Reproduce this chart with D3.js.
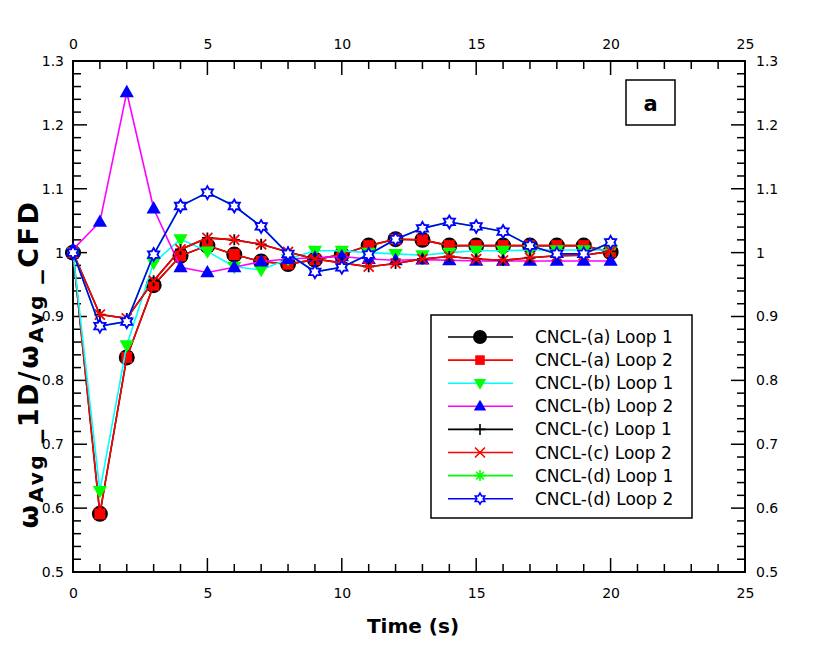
<!DOCTYPE html>
<html><head><meta charset="utf-8">
<script src="https://cdn.jsdelivr.net/npm/d3@7"></script>
<style>body{margin:0;background:#fff}svg{display:block}</style>
</head><body>
<svg id="c" width="830" height="665"></svg>
<script>
const time = d3.range(0, 21);
const a1 = [1.0, 0.591, 0.836, 0.949, 0.995, 1.011, 0.997, 0.986, 0.982, 0.989, 0.997, 1.011, 1.021, 1.02, 1.011, 1.011, 1.011, 1.011, 1.011, 1.011, 1.001];
const a2 = [1.0, 0.591, 0.836, 0.949, 0.995, 1.011, 0.997, 0.986, 0.982, 0.989, 0.997, 1.011, 1.021, 1.02, 1.011, 1.011, 1.011, 1.011, 1.011, 1.011, 1.001];
const b1 = [1.0, 0.627, 0.855, 0.984, 1.021, 1.002, 0.978, 0.973, 0.99, 1.003, 1.003, 1.0, 0.998, 0.996, 1.0, 1.003, 1.003, 1.004, 1.004, 1.004, 1.004];
const b2 = [1.005, 1.048, 1.251, 1.069, 0.977, 0.969, 0.977, 0.986, 0.99, 0.992, 0.994, 0.99, 0.988, 0.989, 0.988, 0.987, 0.987, 0.987, 0.987, 0.987, 0.987];
const c1 = [1.0, 0.903, 0.897, 0.956, 1.005, 1.023, 1.02, 1.013, 1.001, 0.99, 0.984, 0.978, 0.983, 0.99, 0.994, 0.99, 0.988, 0.992, 0.995, 0.996, 1.002];
const c2 = [1.0, 0.903, 0.897, 0.956, 1.005, 1.023, 1.02, 1.013, 1.001, 0.99, 0.984, 0.978, 0.983, 0.99, 0.994, 0.99, 0.988, 0.992, 0.995, 0.996, 1.002];
const d1 = [1.0, 0.885, 0.892, 0.997, 1.073, 1.094, 1.073, 1.041, 0.998, 0.97, 0.977, 0.997, 1.021, 1.038, 1.048, 1.041, 1.033, 1.011, 0.998, 0.998, 1.016];
const d2 = [1.0, 0.885, 0.892, 0.997, 1.073, 1.094, 1.073, 1.041, 0.998, 0.97, 0.977, 0.997, 1.021, 1.038, 1.048, 1.041, 1.033, 1.011, 0.998, 0.998, 1.016];
const seriesNames = ["CNCL-(a) Loop 1","CNCL-(a) Loop 2","CNCL-(b) Loop 1","CNCL-(b) Loop 2","CNCL-(c) Loop 1","CNCL-(c) Loop 2","CNCL-(d) Loop 1","CNCL-(d) Loop 2"];
const xTicks = [0, 5, 10, 15, 20, 25];
const yTicks = [0.5, 0.6, 0.7, 0.8, 0.9, 1.0, 1.1, 1.2, 1.3];
const panelLabel = "a";

const styles = [
  {line:"#000000", sym:"circle", fill:"#000000", stroke:"none", size:8, lsize:7},
  {line:"#ff0000", sym:"square", fill:"#ff0000", stroke:"none", size:5.5, lsize:4.8},
  {line:"#00ffff", sym:"tridown", fill:"#00ff00", stroke:"none", size:7.5, lsize:6.5},
  {line:"#ff00ff", sym:"triup", fill:"#0000ff", stroke:"none", size:7.5, lsize:6.5},
  {line:"#000000", sym:"plus", fill:"none", stroke:"#000000", size:5.5, lsize:5.5},
  {line:"#ff0000", sym:"cross", fill:"none", stroke:"#ff0000", size:5, lsize:5},
  {line:"#00ff00", sym:"aster", fill:"none", stroke:"#00ff00", size:5.5, lsize:5.5},
  {line:"#0000ff", sym:"hex", fill:"#ffffff", stroke:"#0000ff", size:6.5, lsize:5.5}
];
const data = [a1,a2,b1,b2,c1,c2,d1,d2];

function symPath(t, r){
  if(t==="circle"){const p=d3.path();p.moveTo(r,0);p.arc(0,0,r,0,2*Math.PI);return p.toString();}
  if(t==="square") return `M${-r},${-r}H${r}V${r}H${-r}Z`;
  if(t==="triup") return `M0,${-r}L${r*0.95},${r*0.65}L${-r*0.95},${r*0.65}Z`;
  if(t==="tridown") return `M0,${r}L${r*0.95},${-r*0.65}L${-r*0.95},${-r*0.65}Z`;
  if(t==="plus") return `M${-r},0H${r}M0,${-r}V${r}`;
  if(t==="cross") return `M${-r},${-r}L${r},${r}M${-r},${r}L${r},${-r}`;
  if(t==="aster"){const k=r*0.707;return `M${-r},0H${r}M0,${-r}V${r}M${-k},${-k}L${k},${k}M${-k},${k}L${k},${-k}`;}
  if(t==="hex"){
    const pts=[];
    for(let i=0;i<12;i++){const ang=-Math.PI/2+i*Math.PI/6;const rr=(i%2===0)?r:r*0.577;pts.push([rr*Math.cos(ang),rr*Math.sin(ang)]);}
    return "M"+pts.map(p=>p[0].toFixed(2)+","+p[1].toFixed(2)).join("L")+"Z";
  }
}

const svg = d3.select("#c");
const L=73, R=745, T=61, B=572;
const x = d3.scaleLinear().domain([0,25]).range([L,R]);
const y = d3.scaleLinear().domain([0.5,1.3]).range([B,T]);

const g = svg.append("g");
g.append("rect").attr("x",L).attr("y",T).attr("width",R-L).attr("height",B-T).attr("fill","none").attr("stroke","#000").attr("stroke-width",2);

const font = "'DejaVu Sans', Verdana, sans-serif";
const xMinor = d3.range(0,26,1);
const yMinor = d3.range(0,41).map(i=>+(0.5+i*0.02).toFixed(2));
const isMajX = v=>v%5===0;
const isMajY = v=>Math.abs(Math.round(v*10)-v*10)<1e-6;

const tk = g.append("g").attr("stroke","#000").attr("stroke-width",1.5);
xMinor.forEach(v=>{
  const len = isMajX(v)?14:8;
  tk.append("line").attr("x1",x(v)).attr("x2",x(v)).attr("y1",B).attr("y2",B-len);
  tk.append("line").attr("x1",x(v)).attr("x2",x(v)).attr("y1",T).attr("y2",T+len);
});
yMinor.forEach(v=>{
  const len = isMajY(v)?14:8;
  tk.append("line").attr("y1",y(v)).attr("y2",y(v)).attr("x1",L).attr("x2",L+len);
  tk.append("line").attr("y1",y(v)).attr("y2",y(v)).attr("x1",R).attr("x2",R-len);
});

const fmtY = d=> d===1? "1" : d3.format(".1f")(d);
function styleAxis(sel){sel.select(".domain").remove();sel.selectAll(".tick line").remove();sel.selectAll("text").attr("font-family",font).attr("font-size",14).attr("fill","#000");}
svg.append("g").attr("transform",`translate(0,${B})`).call(d3.axisBottom(x).tickValues(xTicks).tickSize(0).tickPadding(16)).call(styleAxis);
svg.append("g").attr("transform",`translate(0,${T})`).call(d3.axisTop(x).tickValues(xTicks).tickSize(0).tickPadding(12)).call(styleAxis);
svg.append("g").attr("transform",`translate(${L},0)`).call(d3.axisLeft(y).tickValues(yTicks).tickFormat(fmtY).tickSize(0).tickPadding(9)).call(styleAxis);
svg.append("g").attr("transform",`translate(${R},0)`).call(d3.axisRight(y).tickValues(yTicks).tickFormat(fmtY).tickSize(0).tickPadding(11)).call(styleAxis);

const line = d3.line().x((d,i)=>x(time[i])).y(d=>y(d));
data.forEach((arr,si)=>{
  const st = styles[si];
  const sg = svg.append("g");
  sg.append("path").attr("d",line(arr)).attr("fill","none").attr("stroke",st.line).attr("stroke-width",1.6);
  sg.selectAll("path.m").data(arr).enter().append("path").attr("class","m")
    .attr("transform",(d,i)=>`translate(${x(time[i])},${y(d)})`)
    .attr("d",symPath(st.sym, st.size))
    .attr("fill",st.fill).attr("stroke",st.stroke).attr("stroke-width",1.8);
});

const lg = svg.append("g");
lg.append("rect").attr("x",431).attr("y",315).attr("width",261).attr("height",203).attr("fill","#fff").attr("stroke","#000").attr("stroke-width",1.5);
seriesNames.forEach((nm,i)=>{
  const yy = 337 + i*23.1;
  const st = styles[i];
  lg.append("line").attr("x1",448).attr("x2",513).attr("y1",yy).attr("y2",yy).attr("stroke",st.line).attr("stroke-width",1.6);
  lg.append("path").attr("transform",`translate(480,${yy})`).attr("d",symPath(st.sym, st.lsize)).attr("fill",st.fill).attr("stroke",st.stroke).attr("stroke-width",1.6);
  lg.append("text").attr("x",535).attr("y",yy+6).attr("font-family",font).attr("font-size",17).text(nm);
});

svg.append("rect").attr("x",626).attr("y",80).attr("width",49).attr("height",45).attr("fill","#fff").attr("stroke","#000").attr("stroke-width",1.5);
svg.append("text").attr("x",650.5).attr("y",111).attr("text-anchor","middle").attr("font-family",font).attr("font-weight","bold").attr("font-size",21).text(panelLabel);

svg.append("text").attr("x",413).attr("y",633).attr("text-anchor","middle").attr("font-family",font).attr("font-weight","bold").attr("font-size",20).text("Time (s)");
const yt = svg.append("text").attr("transform","translate(38,364) rotate(-90)").attr("text-anchor","middle").attr("font-family",font).attr("font-weight","bold").attr("font-size",27).attr("letter-spacing",2.5);
yt.append("tspan").text("ω");
yt.append("tspan").attr("font-size",20).attr("dy",5).text("Avg ");
yt.append("tspan").attr("dy",-5).text("_1D/ω");
yt.append("tspan").attr("font-size",20).attr("dy",5).text("Avg ");
yt.append("tspan").attr("dy",-5).text("_CFD");
</script>
</body></html>
